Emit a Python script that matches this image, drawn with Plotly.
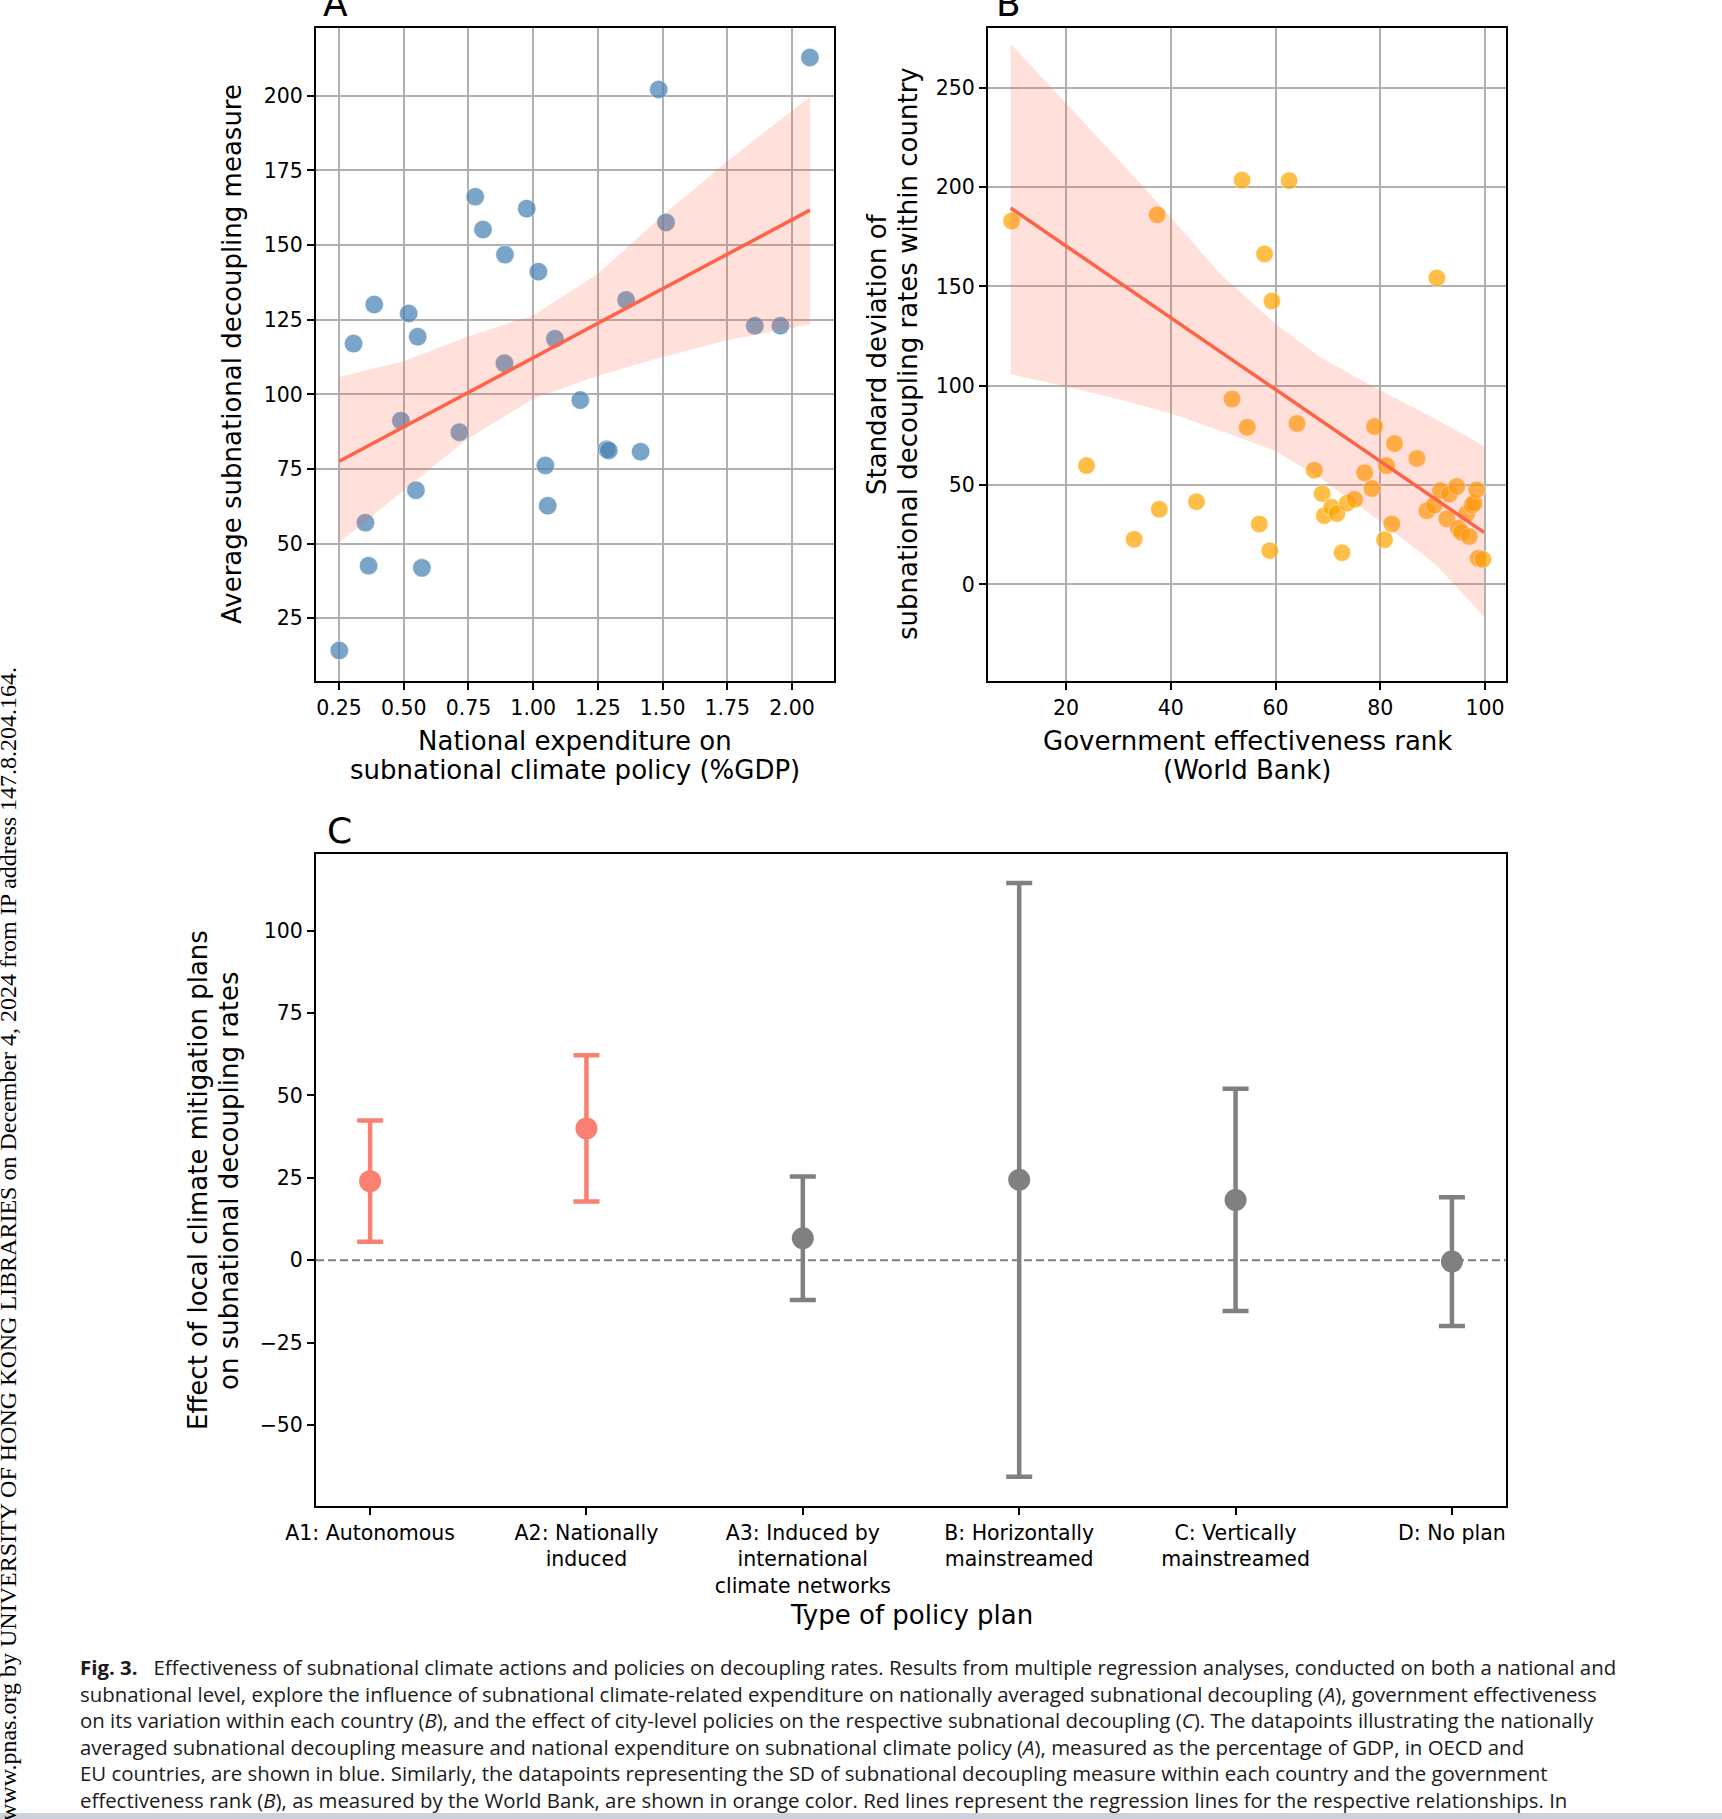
import plotly.graph_objects as go

W, H = 1722, 1819


def px(x):
    return x / W


def py(y):
    return 1 - y / H


# ---------------- Panel A data ----------------
a_expenditure = [0.251, 0.306, 0.386, 0.352, 0.364, 0.489, 0.519, 0.554, 0.547, 0.570,
                 0.715, 0.776, 0.806, 0.891, 0.889, 0.975, 1.020, 1.084, 1.047, 1.056,
                 1.182, 1.284, 1.292, 1.359, 1.415, 1.485, 1.513, 1.856, 1.955, 2.069]
a_decoupling = [14.2, 117.0, 130.1, 57.0, 42.6, 91.2, 127.1, 119.3, 67.9, 41.9,
                87.3, 166.2, 155.2, 146.8, 110.4, 162.2, 141.1, 118.6, 76.2, 62.7,
                98.1, 81.6, 81.2, 131.6, 80.8, 202.1, 157.6, 123.0, 123.0, 212.8]
a_fit_x = [0.251, 2.069]
a_fit_y = [77.6, 161.7]
a_band_x = [0.251, 0.5, 0.75, 1.0, 1.25, 1.5, 1.75, 2.069]
a_band_lo = [50.4, 67.9, 85.3, 98.5, 106.2, 112.5, 118.1, 123.4]
a_band_hi = [105.8, 111.1, 119.5, 126.4, 140.4, 159.9, 178.1, 199.7]
a_xticks = [0.25, 0.50, 0.75, 1.00, 1.25, 1.50, 1.75, 2.00]
a_yticks = [25, 50, 75, 100, 125, 150, 175, 200]

# ---------------- Panel B data ----------------
b_rank = [9.6, 23.9, 33.0, 37.4, 37.8, 44.9, 51.7, 53.6, 54.6, 56.9,
          57.9, 58.9, 59.3, 62.6, 64.1, 67.4, 68.9, 69.3, 70.7, 71.7,
          72.7, 73.7, 75.1, 77.0, 78.4, 78.9, 80.8, 81.2, 82.2, 82.7,
          87.0, 88.9, 90.3, 90.8, 91.5, 92.7, 93.2, 94.6, 94.9, 95.5,
          96.5, 97.0, 97.5, 97.9, 98.4, 98.7, 99.6]
b_sd = [182.9, 59.8, 22.7, 186.0, 37.8, 41.6, 93.3, 203.5, 79.1, 30.4,
        166.3, 17.0, 142.6, 203.2, 81.0, 57.5, 45.7, 34.6, 38.8, 35.7,
        16.0, 40.9, 42.8, 56.2, 48.3, 79.5, 22.5, 59.8, 30.4, 70.9,
        63.4, 37.1, 39.9, 154.2, 47.2, 33.0, 45.5, 49.3, 28.3, 26.2,
        35.7, 24.1, 39.9, 40.9, 47.6, 13.2, 12.6]
b_fit_x = [9.43, 99.8]
b_fit_y = [189.4, 26.2]
b_band_x = [9.43, 20, 30.3, 40.05, 49.4, 60.0, 68.5, 80.1, 90.8, 99.8]
b_band_hi = [272.0, 242.2, 212.9, 184.6, 156.3, 131.1, 114.3, 97.5, 82.9, 69.6]
b_band_lo = [105.9, 99.6, 93.0, 86.0, 77.5, 67.1, 53.5, 31.5, 9.5, -16.3]
b_xticks = [20, 40, 60, 80, 100]
b_yticks = [0, 50, 100, 150, 200, 250]

# ---------------- Panel C data ----------------
plan_types = ["A1: Autonomous", "A2: Nationally<br>induced",
              "A3: Induced by<br>international<br>climate networks",
              "B: Horizontally<br>mainstreamed", "C: Vertically<br>mainstreamed",
              "D: No plan"]
plan_effect = [24.0, 40.0, 6.7, 24.4, 18.3, -0.4]
plan_ci = [18.4, 22.2, 18.7, 90.0, 33.7, 19.5]
plan_significant = [True, True, False, False, False, False]
c_yticks = [-50, -25, 0, 25, 50, 75, 100]

caption_lines = [
    "<b>Fig. 3.</b>\u00a0\u00a0\u00a0Effectiveness of subnational climate actions and policies on decoupling rates. Results from multiple regression analyses, conducted on both a national and",
    "subnational level, explore the influence of subnational climate-related expenditure on nationally averaged subnational decoupling (<i>A</i>), government effectiveness",
    "on its variation within each country (<i>B</i>), and the effect of city-level policies on the respective subnational decoupling (<i>C</i>). The datapoints illustrating the nationally",
    "averaged subnational decoupling measure and national expenditure on subnational climate policy (<i>A</i>), measured as the percentage of GDP, in OECD and",
    "EU countries, are shown in blue. Similarly, the datapoints representing the SD of subnational decoupling measure within each country and the government",
    "effectiveness rank (<i>B</i>), as measured by the World Bank, are shown in orange color. Red lines represent the regression lines for the respective relationships. In",
]
watermark = "www.pnas.org by UNIVERSITY OF HONG KONG LIBRARIES on December 4, 2024 from IP address 147.8.204.164."

# ---------------- styles ----------------
FONT = "DejaVu Sans"
TICK_FS = 20.5
TITLE_FS = 26
BAND = "rgba(255,99,71,0.2)"
FIT = "#FF6347"
BLUE = "rgba(70,130,180,0.72)"
ORANGE = "rgba(255,165,0,0.72)"
SALMON = "#FA8072"
GRAY = "#808080"

fig = go.Figure()

# Panel A
fig.add_trace(go.Scatter(x=a_expenditure, y=a_decoupling, mode="markers", xaxis="x", yaxis="y",
                         marker=dict(size=18.5, color=BLUE, line=dict(color="rgba(255,255,255,0.5)", width=1)),
                         showlegend=False, hoverinfo="skip"))
fig.add_trace(go.Scatter(x=a_band_x + a_band_x[::-1], y=a_band_hi + a_band_lo[::-1], xaxis="x", yaxis="y",
                         fill="toself", fillcolor=BAND, line=dict(width=0), mode="lines",
                         showlegend=False, hoverinfo="skip"))
fig.add_trace(go.Scatter(x=a_fit_x, y=a_fit_y, mode="lines", xaxis="x", yaxis="y",
                         line=dict(color=FIT, width=3.5), showlegend=False, hoverinfo="skip"))

# Panel B
fig.add_trace(go.Scatter(x=b_rank, y=b_sd, mode="markers", xaxis="x2", yaxis="y2",
                         marker=dict(size=17.5, color=ORANGE, line=dict(color="rgba(255,255,255,0.5)", width=1)),
                         showlegend=False, hoverinfo="skip"))
fig.add_trace(go.Scatter(x=b_band_x + b_band_x[::-1], y=b_band_hi + b_band_lo[::-1], xaxis="x2", yaxis="y2",
                         fill="toself", fillcolor=BAND, line=dict(width=0), mode="lines",
                         showlegend=False, hoverinfo="skip"))
fig.add_trace(go.Scatter(x=b_fit_x, y=b_fit_y, mode="lines", xaxis="x2", yaxis="y2",
                         line=dict(color=FIT, width=3.5), showlegend=False, hoverinfo="skip"))

# Panel C
for sig, col in [(True, SALMON), (False, GRAY)]:
    idx = [i for i, s in enumerate(plan_significant) if s == sig]
    fig.add_trace(go.Scatter(
        x=idx, y=[plan_effect[i] for i in idx], mode="markers", xaxis="x3", yaxis="y3",
        marker=dict(size=22, color=col),
        error_y=dict(type="data", array=[plan_ci[i] for i in idx], color=col, thickness=4.5, width=13),
        showlegend=False, hoverinfo="skip"))

axis_common = dict(showline=True, mirror=True, linecolor="black", linewidth=2,
                   ticks="outside", ticklen=7, tickwidth=1.5, tickcolor="black",
                   tickfont=dict(family=FONT, size=TICK_FS, color="black"),
                   zeroline=False, automargin=False)
grid = dict(showgrid=True, gridcolor="#b0b0b0", gridwidth=2)

fig.update_layout(
    width=W, height=H, margin=dict(l=0, r=0, t=0, b=0, autoexpand=False),
    paper_bgcolor="white", plot_bgcolor="white",
    xaxis=dict(domain=[px(316), px(834)], range=[0.161, 2.162], anchor="y",
               tickvals=a_xticks, ticktext=[f"{v:.2f}" for v in a_xticks], **axis_common, **grid),
    yaxis=dict(domain=[py(681), py(28)], range=[4.0, 222.7], anchor="x",
               tickvals=a_yticks, ticktext=[str(v) for v in a_yticks], **axis_common, **grid),
    xaxis2=dict(domain=[px(988), px(1506)], range=[5.1, 104.0], anchor="y2",
                tickvals=b_xticks, ticktext=[str(v) for v in b_xticks], **axis_common, **grid),
    yaxis2=dict(domain=[py(681), py(28)], range=[-48.6, 280.0], anchor="x2",
                tickvals=b_yticks, ticktext=[str(v) for v in b_yticks], **axis_common, **grid),
    xaxis3=dict(domain=[px(316), px(1506)], range=[-0.25, 5.25], anchor="y3",
                tickvals=list(range(len(plan_types))), ticktext=plan_types, showgrid=False, **axis_common),
    yaxis3=dict(domain=[py(1506), py(854)], range=[-74.5, 123.2], anchor="x3",
                tickvals=c_yticks, ticktext=[str(v).replace("-", "\u2212") for v in c_yticks],
                showgrid=False, **axis_common),
)

# zero reference line in C
fig.add_shape(type="line", xref="x3 domain", yref="y3", x0=0, x1=1, y0=0, y1=0,
              line=dict(color=GRAY, width=2, dash="8px,4px"), layer="below")

# bottom strip
fig.add_shape(type="rect", xref="paper", yref="paper", x0=0, x1=1, y0=0, y1=py(1813),
              fillcolor="#cdd1dc", line=dict(width=0), layer="above")

ann = []


def text(t, x, y, size=TITLE_FS, angle=0, xanchor="center", yanchor="middle", family=FONT, align="center"):
    ann.append(dict(text=t, x=px(x), y=py(y), xref="paper", yref="paper", showarrow=False,
                    textangle=angle, xanchor=xanchor, yanchor=yanchor, align=align,
                    font=dict(family=family, size=size, color="black")))


# panel letters
text("A", 321, 4, size=36, xanchor="left")
text("B", 994, 4, size=36, xanchor="left")
text("C", 325, 830, size=36, xanchor="left")

# axis titles
text("National expenditure on", 575, 741)
text("subnational climate policy (%GDP)", 575, 770)
text("Average subnational decoupling measure", 232, 354, angle=-90)
text("Government effectiveness rank", 1247, 741)
text("(World Bank)", 1247, 770)
text("Standard deviation of", 877, 354, angle=-90)
text("subnational decoupling rates within country", 908, 354, angle=-90)
text("Type of policy plan", 911, 1615)
text("Effect of local climate mitigation plans", 198, 1180, angle=-90)
text("on subnational decoupling rates", 229, 1180, angle=-90)

# caption
ann.append(dict(text="<br>".join(caption_lines), x=px(78), y=py(1651), xref="paper", yref="paper",
                showarrow=False, xanchor="left", yanchor="top", align="left",
                font=dict(family="Open Sans", size=20.4, color="#1a1a1a")))

# watermark
text(watermark, 8, 1244, size=24, angle=-90, family="Liberation Serif")

fig.update_layout(annotations=ann)
fig.write_html("out.html", config={"displayModeBar": False},
               post_script="document.body.style.margin='0px';")
